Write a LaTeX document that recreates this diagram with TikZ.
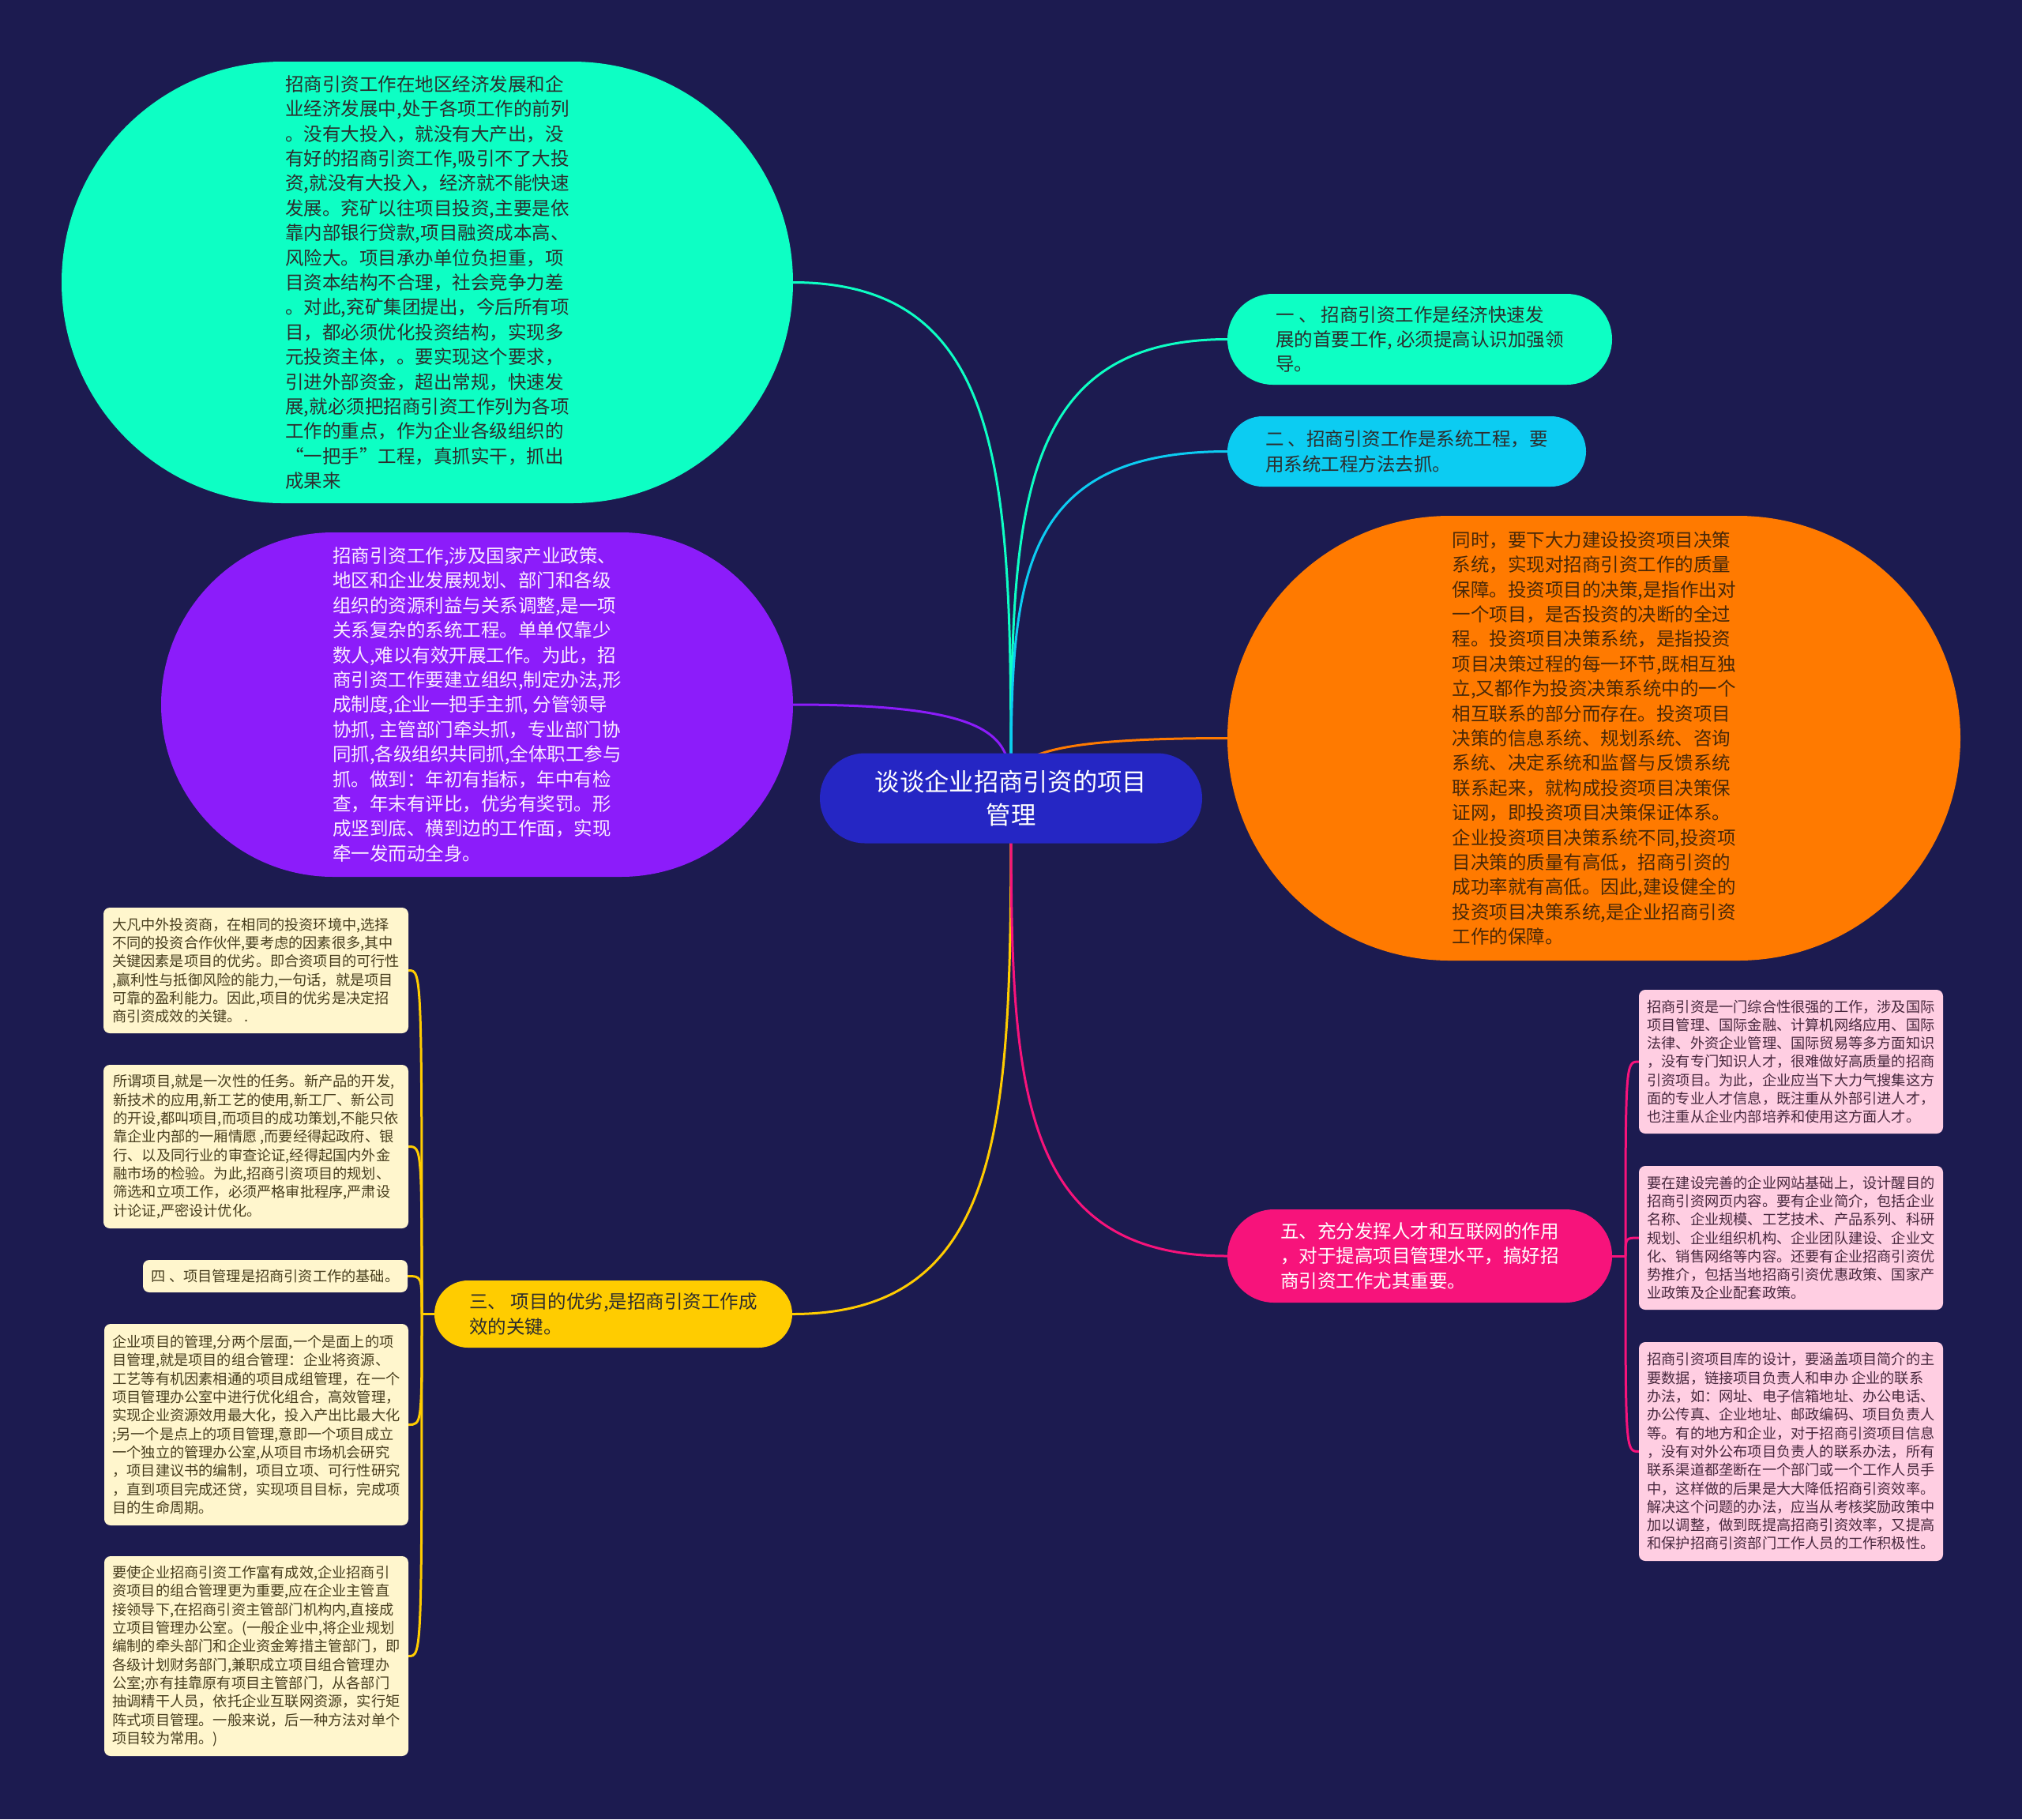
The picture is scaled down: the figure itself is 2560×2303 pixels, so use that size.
\documentclass[tikz,border=0pt]{standalone}
\usepackage{fontspec}
\setmainfont{Noto Sans CJK SC}
\usetikzlibrary{calc}
\definecolor{bgc}{RGB}{28,27,80}
\definecolor{tealc}{RGB}{13,255,196}
\definecolor{cyanc}{RGB}{12,204,242}
\definecolor{purplec}{RGB}{140,28,250}
\definecolor{orangec}{RGB}{255,122,0}
\definecolor{yellowc}{RGB}{255,204,0}
\definecolor{pinkc}{RGB}{247,19,123}
\definecolor{bluec}{RGB}{37,38,196}
\definecolor{creamc}{RGB}{255,246,205}
\definecolor{lpinkc}{RGB}{255,206,226}
\definecolor{darkt}{RGB}{45,45,45}
\definecolor{purplet}{RGB}{250,236,255}
\definecolor{oranget}{RGB}{72,40,8}
\definecolor{creamt}{RGB}{72,62,30}
\definecolor{lpinkt}{RGB}{72,40,62}
\pgfdeclarelayer{back}
\pgfdeclarelayer{edges}
\pgfsetlayers{back,edges,main}
\tikzset{
  txt/.style={font=\fontsize{23.5}{31.4}\selectfont, align=left, inner sep=0pt},
  sm/.style={font=\fontsize{18.2}{23.3}\selectfont, align=left, inner sep=0pt, rounded corners=8pt},
  link/.style={line width=3pt},
}
\newcommand{\branch}[3]{\draw[link, #1] (c.center) .. controls ($(c.center)!0.6!(c.center |- #2.#3)$) and (c.center |- #2.#3) .. (#2.#3);}
\begin{document}
\begin{tikzpicture}[x=1pt,y=-1pt]
\begin{pgfonlayer}{back}
\fill[bgc] (0,0) rectangle (2560,2303);
\end{pgfonlayer}
\useasboundingbox (0,0) rectangle (2560,2303);

% centre
\node[fill=bluec, text=white, minimum width=484pt, minimum height=114pt, rounded corners=57pt, inner sep=0pt, align=center, font=\fontsize{31.3}{42.5}\selectfont] (c) at (1280,1010.5) {谈谈企业招商引资的项目\\管理};

% top-left teal
\node[txt, fill=tealc, text=darkt, minimum width=926pt, minimum height=559pt, rounded corners=279.5pt] (t) at (541,357.5) {招商引资工作在地区经济发展和企\\业经济发展中,处于各项工作的前列\\。没有大投入，就没有大产出，没\\有好的招商引资工作,吸引不了大投\\资,就没有大投入，经济就不能快速\\发展。兖矿以往项目投资,主要是依\\靠内部银行贷款,项目融资成本高、\\风险大。项目承办单位负担重，项\\目资本结构不合理，社会竞争力差\\。对此,兖矿集团提出，今后所有项\\目，都必须优化投资结构，实现多\\元投资主体，。要实现这个要求，\\引进外部资金，超出常规，快速发\\展,就必须把招商引资工作列为各项\\工作的重点，作为企业各级组织的\\“一把手”工程，真抓实干，抓出\\成果来};

% purple
\node[txt, fill=purplec, text=purplet, minimum width=800pt, minimum height=436pt, rounded corners=218pt] (p) at (604,892) {招商引资工作,涉及国家产业政策、\\地区和企业发展规划、部门和各级\\组织的资源利益与关系调整,是一项\\关系复杂的系统工程。单单仅靠少\\数人,难以有效开展工作。为此，招\\商引资工作要建立组织,制定办法,形\\成制度,企业一把手主抓, 分管领导\\协抓, 主管部门牵头抓，专业部门协\\同抓,各级组织共同抓,全体职工参与\\抓。做到：年初有指标，年中有检\\查，年末有评比，优劣有奖罚。形\\成坚到底、横到边的工作面，实现\\牵一发而动全身。};

% one
\node[txt, fill=tealc, text=darkt, minimum width=487pt, minimum height=115pt, rounded corners=57.5pt] (one) at (1797.5,429.5) {一 、 招商引资工作是经济快速发\\展的首要工作, 必须提高认识加强领\\导。};

% two
\node[txt, fill=cyanc, text=darkt, minimum width=454pt, minimum height=89pt, rounded corners=44.5pt] (two) at (1781,571.5) {二 、招商引资工作是系统工程，要\\用系统工程方法去抓。};

% orange
\node[txt, fill=orangec, text=oranget, minimum width=928pt, minimum height=563pt, rounded corners=281.5pt] (o) at (2018,934.5) {同时，要下大力建设投资项目决策\\系统，实现对招商引资工作的质量\\保障。投资项目的决策,是指作出对\\一个项目，是否投资的决断的全过\\程。投资项目决策系统，是指投资\\项目决策过程的每一环节,既相互独\\立,又都作为投资决策系统中的一个\\相互联系的部分而存在。投资项目\\决策的信息系统、规划系统、咨询\\系统、决定系统和监督与反馈系统\\联系起来，就构成投资项目决策保\\证网，即投资项目决策保证体系。\\企业投资项目决策系统不同,投资项\\目决策的质量有高低，招商引资的\\成功率就有高低。因此,建设健全的\\投资项目决策系统,是企业招商引资\\工作的保障。};

% three (yellow)
\node[txt, fill=yellowc, text=darkt, minimum width=453pt, minimum height=85pt, rounded corners=42.5pt] (three) at (776.5,1663.5) {三、 项目的优劣,是招商引资工作成\\效的关键。};

% five (pink)
\node[txt, fill=pinkc, text=white, minimum width=487pt, minimum height=118pt, rounded corners=59pt] (five) at (1797.5,1590) {五、充分发挥人才和互联网的作用\\，对于提高项目管理水平，搞好招\\商引资工作尤其重要。};

% left cream boxes
\node[sm, fill=creamc, text=creamt, minimum width=386pt, minimum height=159pt] (a) at (324,1228.5) {大凡中外投资商，在相同的投资环境中,选择\\不同的投资合作伙伴,要考虑的因素很多,其中\\关键因素是项目的优劣。即合资项目的可行性\\,赢利性与抵御风险的能力,一句话，就是项目\\可靠的盈利能力。因此,项目的优劣是决定招\\商引资成效的关键。 .};

\node[sm, fill=creamc, text=creamt, minimum width=386pt, minimum height=207pt] (b) at (324,1451.5) {所谓项目,就是一次性的任务。新产品的开发,\\新技术的应用,新工艺的使用,新工厂、新公司\\的开设,都叫项目,而项目的成功策划,不能只依\\靠企业内部的一厢情愿 ,而要经得起政府、银\\行、以及同行业的审查论证,经得起国内外金\\融市场的检验。为此,招商引资项目的规划、\\筛选和立项工作，必须严格审批程序,严肃设\\计论证,严密设计优化。};

\node[sm, fill=creamc, text=creamt, minimum width=335pt, minimum height=41pt] (four) at (348.5,1615.5) {四 、项目管理是招商引资工作的基础。};

\node[sm, fill=creamc, text=creamt, minimum width=385pt, minimum height=255pt] (cc) at (324.5,1803.5) {企业项目的管理,分两个层面,一个是面上的项\\目管理,就是项目的组合管理：企业将资源、\\工艺等有机因素相通的项目成组管理，在一个\\项目管理办公室中进行优化组合，高效管理，\\实现企业资源效用最大化，投入产出比最大化\\;另一个是点上的项目管理,意即一个项目成立\\一个独立的管理办公室,从项目市场机会研究\\，项目建议书的编制，项目立项、可行性研究\\，直到项目完成还贷，实现项目目标，完成项\\目的生命周期。};

\node[sm, fill=creamc, text=creamt, minimum width=385pt, minimum height=253pt] (d) at (324.5,2096.5) {要使企业招商引资工作富有成效,企业招商引\\资项目的组合管理更为重要,应在企业主管直\\接领导下,在招商引资主管部门机构内,直接成\\立项目管理办公室。(一般企业中,将企业规划\\编制的牵头部门和企业资金筹措主管部门，即\\各级计划财务部门,兼职成立项目组合管理办\\公室;亦有挂靠原有项目主管部门，从各部门\\抽调精干人员，依托企业互联网资源，实行矩\\阵式项目管理。一般来说，后一种方法对单个\\项目较为常用。)};

% right pink boxes
\node[sm, fill=lpinkc, text=lpinkt, minimum width=385pt, minimum height=182pt] (e) at (2267.5,1344) {招商引资是一门综合性很强的工作，涉及国际\\项目管理、国际金融、计算机网络应用、国际\\法律、外资企业管理、国际贸易等多方面知识\\，没有专门知识人才，很难做好高质量的招商\\引资项目。为此，企业应当下大力气搜集这方\\面的专业人才信息，既注重从外部引进人才，\\也注重从企业内部培养和使用这方面人才。};

\node[sm, fill=lpinkc, text=lpinkt, minimum width=385pt, minimum height=182pt] (f) at (2267.5,1567) {要在建设完善的企业网站基础上，设计醒目的\\招商引资网页内容。要有企业简介，包括企业\\名称、企业规模、工艺技术、产品系列、科研\\规划、企业组织机构、企业团队建设、企业文\\化、销售网络等内容。还要有企业招商引资优\\势推介，包括当地招商引资优惠政策、国家产\\业政策及企业配套政策。};

\node[sm, fill=lpinkc, text=lpinkt, minimum width=385pt, minimum height=277pt] (g) at (2267.5,1837.5) {招商引资项目库的设计，要涵盖项目简介的主\\要数据，链接项目负责人和申办 企业的联系\\办法，如：网址、电子信箱地址、办公电话、\\办公传真、企业地址、邮政编码、项目负责人\\等。有的地方和企业，对于招商引资项目信息\\，没有对外公布项目负责人的联系办法，所有\\联系渠道都垄断在一个部门或一个工作人员手\\中，这样做的后果是大大降低招商引资效率。\\解决这个问题的办法，应当从考核奖励政策中\\加以调整，做到既提高招商引资效率，又提高\\和保护招商引资部门工作人员的工作积极性。};

\coordinate (ys) at (534,1663.5);
\coordinate (ps) at (2058,1590);

\begin{pgfonlayer}{edges}
\branch{tealc}{t}{east}
\branch{tealc}{one}{west}
\branch{cyanc}{two}{west}
\branch{purplec}{p}{east}
\branch{orangec}{o}{west}
\branch{yellowc}{three}{east}
\branch{pinkc}{five}{west}
\draw[link, yellowc] (three.west) -- (ys);
\draw[link, yellowc] (ys) .. controls (ys |- a.east) .. (a.east);
\draw[link, yellowc] (ys) .. controls (ys |- b.east) .. (b.east);
\draw[link, yellowc] (ys) .. controls (ys |- four.east) .. (four.east);
\draw[link, yellowc] (ys) .. controls (ys |- cc.east) .. (cc.east);
\draw[link, yellowc] (ys) .. controls (ys |- d.east) .. (d.east);
\draw[link, pinkc] (five.east) -- (ps);
\draw[link, pinkc] (ps) .. controls (ps |- e.west) .. (e.west);
\draw[link, pinkc] (ps) .. controls (ps |- f.west) .. (f.west);
\draw[link, pinkc] (ps) .. controls (ps |- g.west) .. (g.west);
\end{pgfonlayer}
\end{tikzpicture}
\end{document}
